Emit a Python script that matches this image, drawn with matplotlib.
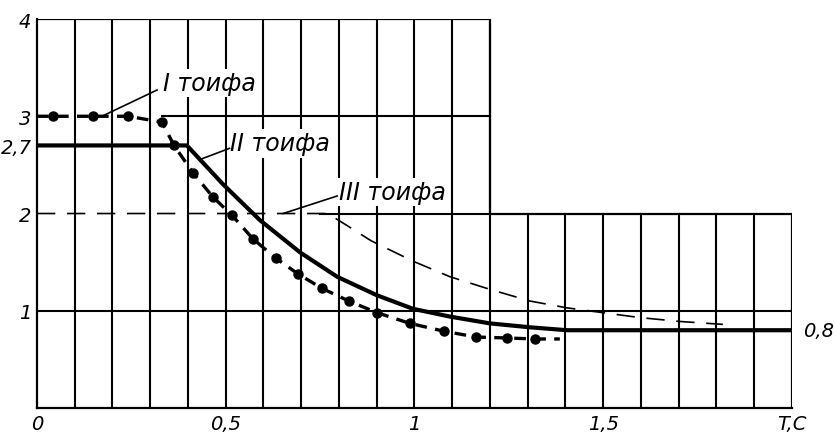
import matplotlib
matplotlib.use("Agg")
import matplotlib.pyplot as plt
import numpy as np

# category I (dashed with dots)
t_1 = [0.0, 0.042, 0.148, 0.241, 0.331, 0.363, 0.413, 0.466, 0.517, 0.572, 0.633,
       0.691, 0.755, 0.826, 0.901, 0.988, 1.078, 1.163, 1.245, 1.319, 1.385]
b_1 = [3.0, 3.0, 3.0, 3.0, 2.94, 2.70, 2.42, 2.17, 1.98, 1.74, 1.54,
       1.38, 1.23, 1.10, 0.98, 0.87, 0.79, 0.73, 0.72, 0.71, 0.71]

# category II (thick solid)
t_2 = [0.0, 0.397, 0.493, 0.591, 0.697, 0.795, 0.90, 0.996, 1.094, 1.20, 1.306, 1.404, 2.0]
b_2 = [2.7, 2.7, 2.30, 1.93, 1.60, 1.35, 1.16, 1.02, 0.94, 0.87, 0.83, 0.80, 0.80]

# category III (thin dashed)
t_3 = [0.0, 0.77, 0.824, 0.885, 0.996, 1.094, 1.20, 1.306, 1.404, 1.50, 1.597, 1.703, 1.817]
b_3 = [2.0, 2.0, 1.87, 1.72, 1.51, 1.35, 1.22, 1.10, 1.03, 0.98, 0.93, 0.89, 0.86]

y_ticks = [1, 2, 2.7, 3, 4]
y_labels = ["1", "2", "2,7", "3", "4"]
x_ticks = [0, 0.5, 1, 1.5, 2.0]
x_labels = ["0", "0,5", "1", "1,5", "T,C"]

plt.rcParams['font.family'] = ['DejaVu Sans']

fig = plt.figure(figsize=(8.35, 4.39), dpi=100)
ax = fig.add_axes([0.0443, 0.0683, 0.9042, 0.8861])
ax.set_xlim(0, 2.0)
ax.set_ylim(0, 4)

for s in ['top', 'right']:
    ax.spines[s].set_visible(False)
for s in ['left', 'bottom']:
    ax.spines[s].set_linewidth(1.6)

# grid: tall part up to T=1.2, low part up to y=2
for x in np.arange(0.1, 2.0, 0.1):
    top = 4 if x < 1.2 + 1e-6 else 2
    ax.plot([x, x], [0, top], color='black', lw=1.5, zorder=1)
ax.plot([0, 1.2, 1.2, 2.0, 2.0], [4, 4, 2, 2, 0], color='black', lw=1.6, zorder=1)
ax.plot([0, 2.0], [1, 1], color='black', lw=1.5, zorder=1)
ax.plot([0.75, 1.2], [2, 2], color='black', lw=1.5, zorder=1)
ax.plot([0.33, 1.2], [3, 3], color='black', lw=1.5, zorder=1)

ax.plot(t_3, b_3, color='black', lw=1.2, ls=(0, (11, 7)), zorder=2)
ax.plot(t_2, b_2, color='black', lw=3.0, solid_capstyle='butt',
        solid_joinstyle='round', zorder=3)
ax.plot(t_1, b_1, color='black', lw=2.4, ls=(0, (3.5, 2.5)), marker='o', ms=6.5,
        markevery=list(range(1, len(t_1) - 1)), zorder=4)

txt = dict(fontsize=17, style='italic', va='center', ha='left', zorder=5,
           bbox=dict(fc='white', ec='none', pad=1.5))
ax.text(0.334, 3.34, "I тоифа", **txt)
ax.text(0.51, 2.72, "II тоифа", **txt)
ax.text(0.80, 2.22, "III тоифа", **txt)
ax.plot([0.318, 0.172], [3.27, 3.0], color='black', lw=1.2, zorder=5)
ax.plot([0.51, 0.435], [2.67, 2.56], color='black', lw=1.2, zorder=5)
ax.plot([0.795, 0.652], [2.18, 2.0], color='black', lw=1.2, zorder=5)

ax.text(2.03, 0.8, "0,8", fontsize=14, style='italic', va='center', ha='left')

ax.set_yticks(y_ticks)
ax.set_yticklabels(y_labels, fontsize=14, style='italic')
ax.set_xticks(x_ticks)
ax.set_xticklabels(x_labels, fontsize=14, style='italic')
ax.tick_params(length=0, pad=4)

fig.savefig("out.png", dpi=100)
